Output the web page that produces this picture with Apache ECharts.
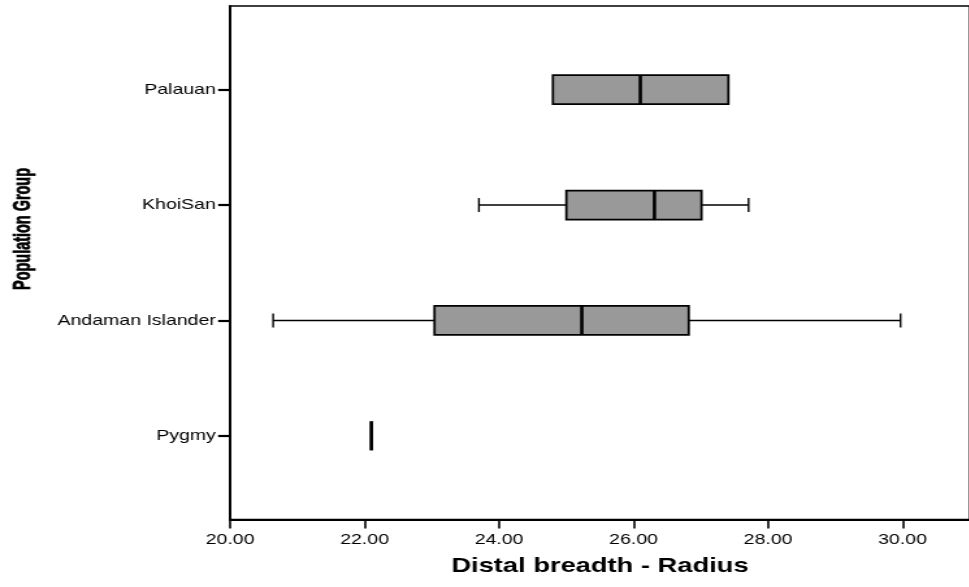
<!DOCTYPE html>
<html>
<head>
<meta charset="utf-8">
<title>Distal breadth - Radius by Population Group</title>
<script src="https://cdn.jsdelivr.net/npm/echarts@6/dist/echarts.min.js"></script>
<style>
  html, body { margin: 0; padding: 0; background: #fff; overflow: hidden; }
  #wrap { width: 969px; height: 587px; overflow: hidden; }
  /* the chart is laid out on a narrower canvas and widened horizontally */
  #chart { width: 746px; height: 587px; transform: scaleX(1.3); transform-origin: 0 0; }
</style>
</head>
<body>
<div id="wrap"><div id="chart"></div></div>
<script>
// Population groups, bottom to top
const groups = ['Pygmy', 'Andaman Islander', 'KhoiSan', 'Palauan'];
// Box-plot statistics per group (same order as groups)
const whiskerLow  = [22.10, 20.64, 23.70, 24.80];
const quartile1   = [22.10, 23.04, 25.00, 24.80];
const medians     = [22.10, 25.23, 26.31, 26.10];
const quartile3   = [22.10, 26.82, 27.01, 27.41];
const whiskerHigh = [22.10, 29.97, 27.71, 27.41];
// Axis ranges
const xMin = 20, xMax = 31, xStep = 2;
const groupIndex = groups.map((g, i) => i);

const FONT = "'Liberation Sans', Arial, sans-serif";

const chart = echarts.init(document.getElementById('chart'), null, { renderer: 'canvas' });

const boxData = groups.map((g, i) => [i, whiskerLow[i], quartile1[i], medians[i], quartile3[i], whiskerHigh[i]]);

function renderBox(params, api) {
  const i = api.value(0);
  const xAt = k => api.coord([api.value(k), i])[0];
  const y = api.coord([api.value(3), i])[1];
  const lo = xAt(1), q1 = xAt(2), md = xAt(3), q3 = xAt(4), hi = xAt(5);
  const half = 14.5, cap = 7;
  const whiskerStyle = { stroke: '#000', lineWidth: 1.4 };
  const parts = [];
  if (lo < q1) {
    parts.push({ type: 'line', shape: { x1: lo, y1: y, x2: q1, y2: y }, style: whiskerStyle });
    parts.push({ type: 'line', shape: { x1: lo, y1: y - cap, x2: lo, y2: y + cap }, style: whiskerStyle });
  }
  if (hi > q3) {
    parts.push({ type: 'line', shape: { x1: q3, y1: y, x2: hi, y2: y }, style: whiskerStyle });
    parts.push({ type: 'line', shape: { x1: hi, y1: y - cap, x2: hi, y2: y + cap }, style: whiskerStyle });
  }
  parts.push({
    type: 'rect',
    shape: { x: q1, y: y - half, width: q3 - q1, height: half * 2 },
    style: { fill: '#999999', stroke: '#000', lineWidth: 1.8 }
  });
  parts.push({
    type: 'line',
    shape: { x1: md, y1: y - half, x2: md, y2: y + half },
    style: { stroke: '#000', lineWidth: 2.6 }
  });
  return { type: 'group', children: parts };
}

chart.setOption({
  animation: false,
  backgroundColor: '#fff',
  grid: {
    left: 177, top: 6, width: 571.5, height: 513.5,
    show: true, borderColor: '#000', borderWidth: 1.6, backgroundColor: 'transparent'
  },
  // vertical axis title, condensed along its length
  graphic: [{
    type: 'text',
    x: 18, y: 229,
    rotation: Math.PI / 2,
    scaleX: 0.76,
    style: {
      text: 'Population Group',
      fontFamily: FONT,
      fontWeight: 'bold',
      fontSize: 19,
      fill: '#000',
      stroke: '#000',
      lineWidth: 0.7,
      align: 'center',
      verticalAlign: 'middle'
    }
  }],
  xAxis: {
    type: 'value',
    min: xMin, max: xMax, interval: xStep,
    name: 'Distal breadth - Radius',
    nameLocation: 'middle',
    nameGap: 36,
    nameTextStyle: { fontFamily: FONT, fontWeight: 'bold', fontSize: 21, color: '#000' },
    axisLine: { show: true, onZero: false, lineStyle: { color: '#000', width: 1.8 } },
    axisTick: { show: true, length: 9, lineStyle: { color: '#000', width: 1.6 } },
    axisLabel: {
      fontFamily: FONT, fontSize: 15, color: '#000', margin: 13,
      showMaxLabel: false,
      formatter: v => v.toFixed(2)
    },
    splitLine: { show: false }
  },
  yAxis: {
    type: 'value',
    min: -0.725, max: 3.725,
    axisLine: { show: true, onZero: false, lineStyle: { color: '#000', width: 1.8 } },
    axisTick: { show: true, length: 9.2, customValues: groupIndex, lineStyle: { color: '#000', width: 2.2 } },
    axisLabel: {
      fontFamily: FONT, fontSize: 15, color: '#000', margin: 11,
      customValues: groupIndex,
      formatter: v => groups[Math.round(v)]
    },
    splitLine: { show: false }
  },
  series: [{
    type: 'custom',
    renderItem: renderBox,
    encode: { y: 0, x: [1, 2, 3, 4, 5] },
    data: boxData,
    clip: false
  }]
});
</script>
</body>
</html>
